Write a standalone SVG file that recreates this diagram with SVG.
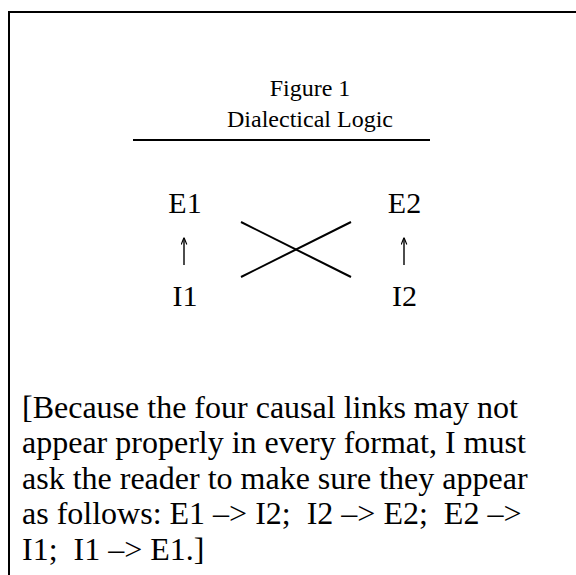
<svg xmlns="http://www.w3.org/2000/svg" width="576" height="575" viewBox="0 0 576 575">
<style>
text{font-family:"Liberation Serif","Times New Roman",serif;fill:#000;white-space:pre}
.t{font-size:24px;text-anchor:middle}
.n{font-size:30px;text-anchor:middle}
.b{font-size:32px}
.ln{stroke:#000;stroke-width:2;fill:none}
.ar{stroke:#000;stroke-width:1.4;fill:none}
</style>
<defs>
<marker id="ah" viewBox="0 0 10 10" refX="10" refY="5" markerWidth="7" markerHeight="7" orient="auto" markerUnits="userSpaceOnUse">
<path d="M0,1 L10,5 L0,9" fill="none" stroke="#000" stroke-width="1.6"/>
</marker>
</defs>
<rect width="576" height="575" fill="#fff"/>
<path class="ln" d="M9,590 V12 H580"/>
<g id="title">
<text class="t" x="310" y="96">Figure 1</text>
<text class="t" x="310" y="127">Dialectical Logic</text>
<line class="ln" x1="133" y1="140" x2="430" y2="140"/>
</g>
<g id="E1"><text class="n" x="185" y="213">E1</text></g>
<g id="I1"><text class="n" x="185" y="306">I1</text></g>
<g id="E2"><text class="n" x="404.5" y="213">E2</text></g>
<g id="I2"><text class="n" x="404.5" y="306">I2</text></g>
<g id="connectors">
<line class="ar" x1="184" y1="265" x2="184" y2="237.5" marker-end="url(#ah)"/>
<line class="ar" x1="404" y1="265" x2="404" y2="237.5" marker-end="url(#ah)"/>
<line class="ln" x1="241" y1="277" x2="351" y2="222"/>
<line class="ln" x1="241" y1="222" x2="351" y2="277"/>
</g>
<g id="note">
<text class="b" x="22" y="418">[Because the four causal links may not</text>
<text class="b" x="22" y="453">appear properly in every format, I must</text>
<text class="b" x="22" y="489">ask the reader to make sure they appear</text>
<text class="b" x="22" y="524">as follows: E1 –&gt; I2;  I2 –&gt; E2;  E2 –&gt;</text>
<text class="b" x="22" y="560">I1;  I1 –&gt; E1.]</text>
</g>
</svg>
